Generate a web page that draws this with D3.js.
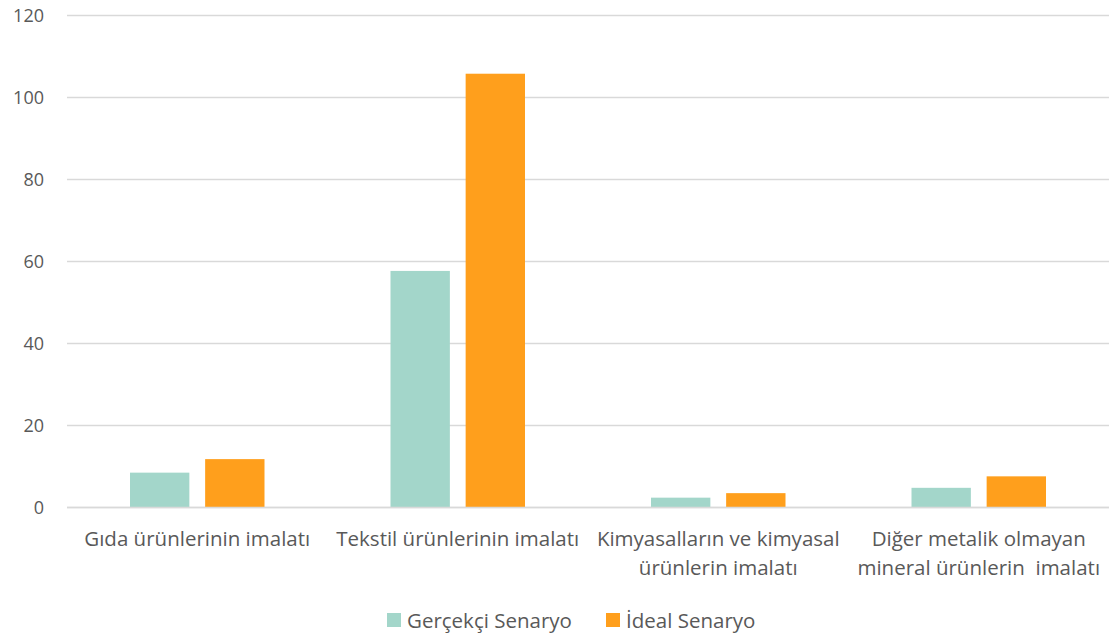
<!DOCTYPE html>
<html><head><meta charset="utf-8">
<script src="https://cdn.jsdelivr.net/npm/d3@7"></script>
<style>body{margin:0;background:#fff}svg text{font-family:"Open Sans",sans-serif;fill:#595959}</style>
</head><body>
<svg id="c" width="1109" height="637"></svg>
<script>
const categories = [["Gıda ürünlerinin imalatı"],["Tekstil ürünlerinin imalatı"],["Kimyasalların ve kimyasal","ürünlerin imalatı"],["Diğer metalik olmayan","mineral ürünlerin  imalatı"]];
const seriesNames = ["Gerçekçi Senaryo","İdeal Senaryo"];
const gercekci = [8.5, 57.7, 2.4, 4.8];
const ideal = [11.8, 105.8, 3.5, 7.6];
const yTicks = [0,20,40,60,80,100,120];
const colors = ["#A3D6CA","#FF9F1C"];

const svg = d3.select("#c");
const m = {l:67, r:0, t:15.5, b:129.5};
const W = 1109, H = 637;
const x = d3.scaleBand().domain(d3.range(categories.length)).range([m.l, W-m.r]).paddingInner(0).paddingOuter(0);
const y = d3.scaleLinear().domain([0,120]).range([H-m.b, m.t]);
const xs = d3.scaleBand().domain([0,1]).range([63, x.bandwidth()-63]).paddingInner(0.21);

svg.append("g").selectAll("line").data(yTicks).join("line")
  .attr("x1", m.l).attr("x2", W-m.r).attr("y1", d=>y(d)).attr("y2", d=>y(d))
  .attr("stroke", "#d9d9d9").attr("stroke-width", 1.3);

const yAxis = d3.axisLeft(y).tickValues(yTicks).tickSize(0).tickPadding(0);
const ga = svg.append("g").attr("transform","translate(44,0)").call(yAxis);
ga.select(".domain").remove();
ga.selectAll("text").style("font-size","18px").style("font-family","'Open Sans',sans-serif").attr("fill","#595959").attr("dy","0.35em");

const data = [gercekci, ideal];
data.forEach((vals, s) => {
  svg.append("g").selectAll("rect").data(vals).join("rect")
    .attr("x", (d,i)=>x(i)+xs(s)).attr("width", xs.bandwidth())
    .attr("y", d=>y(d)).attr("height", d=>y(0)-y(d))
    .attr("fill", colors[s]);
});

svg.append("line").attr("x1", m.l).attr("x2", W-m.r).attr("y1", y(0)).attr("y2", y(0))
  .attr("stroke","#d9d9d9").attr("stroke-width",1.5);

const xl = svg.append("g");
categories.forEach((lines,i) => {
  lines.forEach((t,j) => {
    xl.append("text").attr("x", x(i)+x.bandwidth()/2).attr("y", 546 + j*29)
      .attr("text-anchor","middle").style("font-size","20.5px").style("white-space","pre").text(t);
  });
});

const leg = svg.append("g");
const legX = [387, 606];
seriesNames.forEach((n,i)=>{
  leg.append("rect").attr("x", legX[i]).attr("y", 613).attr("width", 14).attr("height", 14).attr("fill", colors[i]);
  leg.append("text").attr("x", legX[i]+20).attr("y", 628).style("font-size","20.5px").text(n);
});
</script>
</body></html>
